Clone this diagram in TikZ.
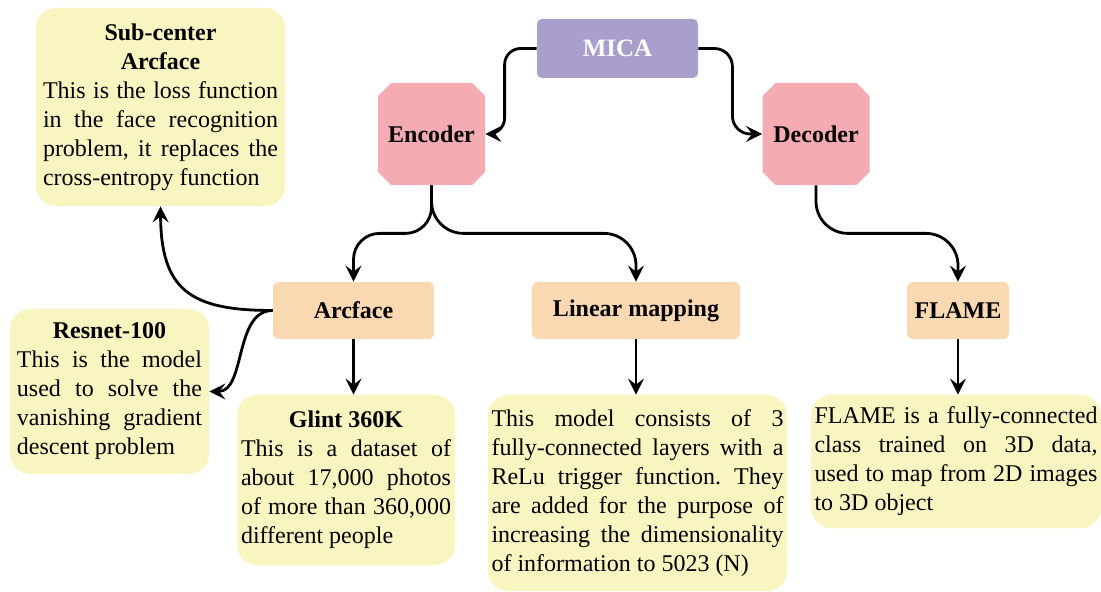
\documentclass[tikz,border=0pt]{standalone}
\usepackage{fontspec}
\setmainfont{Liberation Serif}
\usetikzlibrary{arrows.meta}
\definecolor{micapurple}{RGB}{170,159,204}
\definecolor{codpink}{RGB}{244,171,177}
\definecolor{peach}{RGB}{250,216,178}
\definecolor{paleyellow}{RGB}{249,245,193}
\begin{document}
\frenchspacing
\begin{tikzpicture}[x=0.5pt,y=-0.5pt,
  txt/.style={font=\fontsize{12}{14.5}\selectfont},
  btxt/.style={font=\fontsize{12}{14.5}\selectfont\bfseries},
  micabox/.style={btxt, fill=micapurple, rounded corners=2.5pt, minimum width=80.5pt,
    minimum height=29.5pt, inner sep=0pt, text=white, font=\fontsize{12.5}{15}\selectfont\bfseries},
  octo/.style={btxt, rectangle, minimum width=53.5pt, minimum height=51pt, inner sep=0pt,
    path picture={\fill[codpink]
      ([xshift=6.5pt]path picture bounding box.south west) --
      ([xshift=-6.5pt]path picture bounding box.south east) --
      ([yshift=6.5pt]path picture bounding box.south east) --
      ([yshift=-6.5pt]path picture bounding box.north east) --
      ([xshift=-6.5pt]path picture bounding box.north east) --
      ([xshift=6.5pt]path picture bounding box.north west) --
      ([yshift=-6.5pt]path picture bounding box.north west) --
      ([yshift=6.5pt]path picture bounding box.south west) -- cycle;}},
  orangebox/.style={btxt, fill=peach, rounded corners=3pt, minimum height=28.5pt, inner sep=0pt},
  note/.style={txt, fill=paleyellow, rounded corners=10pt, align=justify, inner ysep=0pt},
  conn/.style={line width=1.4pt, -{Stealth[length=8pt,width=8pt,inset=3pt]}}
]
\useasboundingbox (0,0) rectangle (1101,592);

% main nodes
\node[micabox] (mica) at (617.5,48.5) {MICA};
\node[octo] (enc) at (431.5,134) {Encoder};
\node[octo] (dec) at (816,134) {Decoder};
\node[orangebox, minimum width=80.5pt] (arc) at (353.5,310.5) {Arcface};
\node[orangebox, minimum width=104pt] (lin) at (636,310.5) {Linear mapping};
\node[orangebox, minimum width=51pt] (flame) at (958,310.5) {FLAME};

% notes
\node[note, text width=117.5pt, inner xsep=3.5pt, minimum height=99pt] (sub) at (160.5,107)
  {{\centering\bfseries Sub-center\\Arcface\par}This is the loss function\linebreak
   in the face recognition\linebreak problem, it replaces the\linebreak cross-entropy function};
\node[note, text width=92.5pt, inner xsep=3.5pt, minimum height=82.5pt] (res) at (109.5,391.5)
  {{\centering\bfseries Resnet-100\par}This is the model\linebreak used to solve the\linebreak
   vanishing gradient\linebreak descent problem};
\node[note, text width=105pt, inner xsep=2pt, minimum height=85pt] (glint) at (346,480)
  {{\centering\bfseries Glint 360K\par}This is a dataset of\linebreak about 17,000 photos\linebreak
   of more than 360,000\linebreak different people};
\node[note, text width=146pt, inner xsep=1.75pt, minimum height=98pt] (lintxt) at (637.5,493)
  {This model consists of 3\linebreak fully-connected layers with a\linebreak
   ReLu trigger function. They\linebreak are added for the purpose of\linebreak
   increasing the dimensionality\linebreak of information to 5023 (N)};
\node[note, text width=141.5pt, inner xsep=1.75pt, minimum height=66.5pt] (flametxt) at (956,461.5)
  {FLAME is a fully-connected\linebreak class trained on 3D data,\linebreak
   used to map from 2D images\linebreak to 3D object};

% connectors
\draw[conn, rounded corners=8pt] (mica.west) -- ++(-32,0) |- (enc.east);
\draw[conn, rounded corners=9pt] (mica.east) -- ++(34,0) |- (dec.west);
\draw[conn, rounded corners=13pt] (enc.south) -- ++(0,48) -| (arc.north);
\draw[conn, rounded corners=16pt] (enc.south) -- ++(0,48) -| (lin.north);
\draw[conn, rounded corners=16pt] (dec.south) -- ++(0,48) -| (flame.north);
\draw[conn] (arc.south) -- (arc.south |- glint.north);
\draw[conn] (lin.south) -- (lin.south |- lintxt.north);
\draw[conn] (flame.south) -- (flame.south |- flametxt.north);
\draw[conn] (arc.west) .. controls (190,310.5) and (161,290) .. (sub.south);
\draw[conn] (arc.west) .. controls (234,310.5) and (246,391.5) .. (res.east);
\end{tikzpicture}
\end{document}
